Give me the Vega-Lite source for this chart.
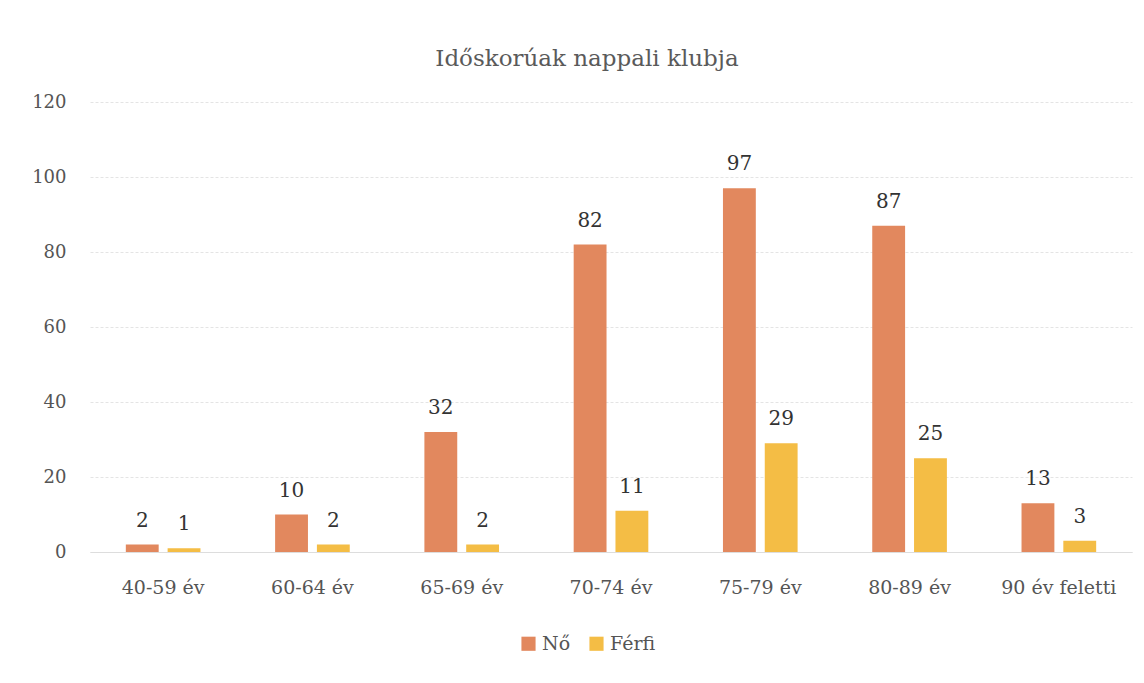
{
  "$schema": "https://vega.github.io/schema/vega-lite/v6.json",
  "width": 1042,
  "height": 450,
  "autosize": {"type": "none"},
  "padding": {"left": 90, "top": 102, "right": 12, "bottom": 131},
  "background": "white",
  "title": {
    "text": "Időskorúak nappali klubja",
    "font": "DejaVu Serif",
    "fontSize": 23,
    "fontWeight": "normal",
    "color": "#5a5a5a",
    "offset": 22,
    "dx": -24
  },
  "config": {
    "view": {"stroke": null},
    "font": "DejaVu Serif"
  },
  "data": {
    "values": [
      {"kor": "40-59 év", "nem": "Nő", "db": 2},
      {"kor": "40-59 év", "nem": "Férfi", "db": 1},
      {"kor": "60-64 év", "nem": "Nő", "db": 10},
      {"kor": "60-64 év", "nem": "Férfi", "db": 2},
      {"kor": "65-69 év", "nem": "Nő", "db": 32},
      {"kor": "65-69 év", "nem": "Férfi", "db": 2},
      {"kor": "70-74 év", "nem": "Nő", "db": 82},
      {"kor": "70-74 év", "nem": "Férfi", "db": 11},
      {"kor": "75-79 év", "nem": "Nő", "db": 97},
      {"kor": "75-79 év", "nem": "Férfi", "db": 29},
      {"kor": "80-89 év", "nem": "Nő", "db": 87},
      {"kor": "80-89 év", "nem": "Férfi", "db": 25},
      {"kor": "90 év feletti", "nem": "Nő", "db": 13},
      {"kor": "90 év feletti", "nem": "Férfi", "db": 3}
    ]
  },
  "encoding": {
    "x": {
      "field": "kor",
      "type": "nominal",
      "sort": null,
      "scale": {"paddingInner": 0.5, "paddingOuter": 0.24},
      "axis": {
        "title": null,
        "labelAngle": 0,
        "labelFont": "DejaVu Serif",
        "labelFontSize": 19,
        "labelColor": "#555555",
        "labelPadding": 26,
        "ticks": false,
        "domain": true,
        "domainColor": "#dddddd",
        "grid": false
      }
    },
    "xOffset": {
      "field": "nem",
      "type": "nominal",
      "sort": ["Nő", "Férfi"],
      "scale": {"paddingInner": 0.214, "paddingOuter": 0}
    },
    "y": {
      "field": "db",
      "type": "quantitative",
      "scale": {"domain": [0, 120]},
      "axis": {
        "title": null,
        "values": [0, 20, 40, 60, 80, 100, 120],
        "labelFont": "DejaVu Serif",
        "labelFontSize": 18,
        "labelColor": "#555555",
        "labelPadding": 24,
        "ticks": false,
        "domain": false,
        "grid": true,
        "gridColor": "#e4e4e4",
        "gridDash": [3, 2]
      }
    }
  },
  "layer": [
    {
      "mark": {"type": "bar"},
      "encoding": {
        "color": {
          "field": "nem",
          "type": "nominal",
          "sort": ["Nő", "Férfi"],
          "scale": {"domain": ["Nő", "Férfi"], "range": ["#E2885E", "#F4BD45"]},
          "legend": {
            "title": null,
            "orient": "none",
            "legendX": 429,
            "legendY": 532,
            "direction": "horizontal",
            "symbolType": "square",
            "symbolSize": 200,
            "symbolStrokeWidth": 0,
            "labelFont": "DejaVu Serif",
            "labelFontSize": 19,
            "labelColor": "#555555",
            "columnPadding": 16
          }
        }
      }
    },
    {
      "mark": {
        "type": "text",
        "baseline": "bottom",
        "dy": -14,
        "font": "DejaVu Serif",
        "fontSize": 20,
        "color": "#333333"
      },
      "encoding": {
        "text": {"field": "db", "type": "quantitative"}
      }
    }
  ]
}
